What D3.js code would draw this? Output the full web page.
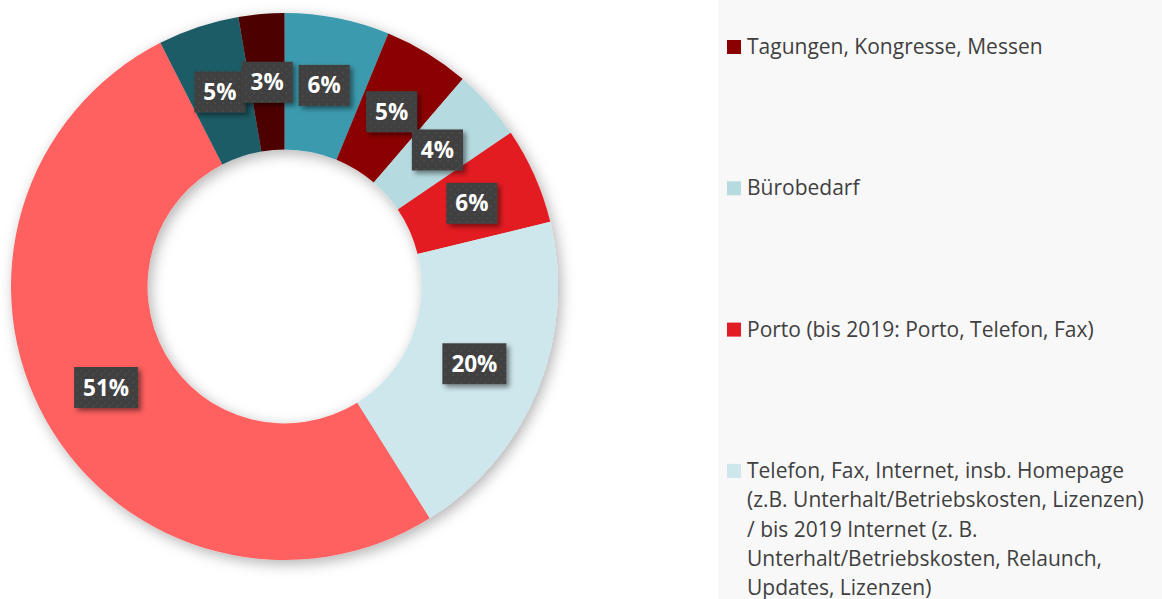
<!DOCTYPE html>
<html>
<head>
<meta charset="utf-8">
<script src="https://cdn.jsdelivr.net/npm/d3@7/dist/d3.min.js"></script>
<style>
  html, body { margin: 0; padding: 0; background: #ffffff; }
  svg { display: block; }
</style>
</head>
<body>
<svg id="chart" width="1162" height="599"></svg>
<script>
// ---- data (clockwise from 12 o'clock) ----
const categories = [
  "Sonstiges A",
  "Tagungen, Kongresse, Messen",
  "Bürobedarf",
  "Porto (bis 2019: Porto, Telefon, Fax)",
  "Telefon, Fax, Internet, insb. Homepage (z.B. Unterhalt/Betriebskosten, Lizenzen) / bis 2019 Internet (z. B. Unterhalt/Betriebskosten, Relaunch, Updates, Lizenzen)",
  "Sonstiges B",
  "Sonstiges C",
  "Sonstiges D"
];
const values = [6.2, 5.1, 4.2, 5.7, 19.9, 51.4, 4.8, 2.7];
const colors = ["#3a9aae", "#8b0000", "#b5dae0", "#e31c23", "#cde7ec", "#ff6060", "#1f5c66", "#4d0000"];

// legend entries visible in the reference (index into categories) with wrapped lines
const legendIndex = [1, 2, 3, 4];
const legendLines = [
  ["Tagungen, Kongresse, Messen"],
  ["Bürobedarf"],
  ["Porto (bis 2019: Porto, Telefon, Fax)"],
  ["Telefon, Fax, Internet, insb. Homepage",
   "(z.B. Unterhalt/Betriebskosten, Lizenzen)",
   "/ bis 2019 Internet (z. B.",
   "Unterhalt/Betriebskosten, Relaunch,",
   "Updates, Lizenzen)"]
];

// ---- layout ----
const svg = d3.select("#chart");
const cx = 284.5, cy = 286.5, outerR = 273.5, innerR = 137, labelR = 205;

const defs = svg.append("defs");
const ringShadow = defs.append("filter").attr("id", "ringShadow")
  .attr("x", "-20%").attr("y", "-20%").attr("width", "140%").attr("height", "140%");
ringShadow.append("feDropShadow").attr("dx", 3).attr("dy", 4)
  .attr("stdDeviation", 7).attr("flood-color", "#000").attr("flood-opacity", 0.3);

const boxShadow = defs.append("filter").attr("id", "boxShadow")
  .attr("x", "-30%").attr("y", "-30%").attr("width", "170%").attr("height", "170%");
boxShadow.append("feDropShadow").attr("dx", 3).attr("dy", 3)
  .attr("stdDeviation", 2.5).attr("flood-color", "#000").attr("flood-opacity", 0.45);

const pat = defs.append("pattern").attr("id", "dots")
  .attr("width", 8).attr("height", 8).attr("patternUnits", "userSpaceOnUse");
pat.append("rect").attr("width", 8).attr("height", 8).attr("fill", "#404040");
pat.append("rect").attr("x", 2).attr("y", 2).attr("width", 2).attr("height", 2).attr("fill", "#4b4b4b");
pat.append("rect").attr("x", 6).attr("y", 6).attr("width", 2).attr("height", 2).attr("fill", "#484848");

// legend panel
svg.append("rect").attr("x", 718).attr("y", 0).attr("width", 444).attr("height", 599)
  .attr("fill", "#f8f8f8");

// ---- donut ----
const pie = d3.pie().sort(null).value(d => d)(values);
const arc = d3.arc().innerRadius(innerR).outerRadius(outerR);
const labelArc = d3.arc().innerRadius(labelR).outerRadius(labelR);

const g = svg.append("g").attr("transform", `translate(${cx},${cy})`);
g.append("g").attr("filter", "url(#ringShadow)")
  .selectAll("path").data(pie).join("path")
  .attr("d", arc)
  .attr("fill", (d, i) => colors[i]);

// ---- labels ----
const total = d3.sum(values);
const fmt = v => Math.round(v / total * 100) + "%";
const lbl = g.append("g").selectAll("g").data(pie).join("g")
  .attr("transform", d => {
    const [x, y] = labelArc.centroid(d);
    return `translate(${x},${y})`;
  });
lbl.each(function(d) {
  const s = d3.select(this);
  const t = s.append("text")
    .attr("text-anchor", "middle").attr("dy", "0.36em")
    .attr("font-family", "'Open Sans', sans-serif").attr("font-weight", "bold")
    .attr("font-size", 22.5).attr("fill", "#ffffff")
    .text(fmt(d.data));
  const w = t.node().getComputedTextLength();
  const bw = w + 18, bh = 41;
  s.insert("rect", "text")
    .attr("x", -bw / 2).attr("y", -bh / 2).attr("width", bw).attr("height", bh)
    .attr("fill", "url(#dots)").attr("filter", "url(#boxShadow)");
});

// ---- legend ----
const lg = svg.append("g");
const legendX = 727, legendY0 = 54, legendStep = 141.3, lineH = 29.3;
legendIndex.forEach((ci, k) => {
  const by = legendY0 + k * legendStep;
  lg.append("rect").attr("x", legendX).attr("y", by - 14).attr("width", 14).attr("height", 14)
    .attr("fill", colors[ci]);
  const t = lg.append("text").attr("x", legendX + 20).attr("y", by)
    .attr("font-family", "'Open Sans', sans-serif").attr("font-size", 21)
    .attr("fill", "#404040");
  legendLines[k].forEach((ln, j) => {
    t.append("tspan").attr("x", legendX + 20).attr("y", by + j * lineH).text(ln);
  });
});
</script>
</body>
</html>
